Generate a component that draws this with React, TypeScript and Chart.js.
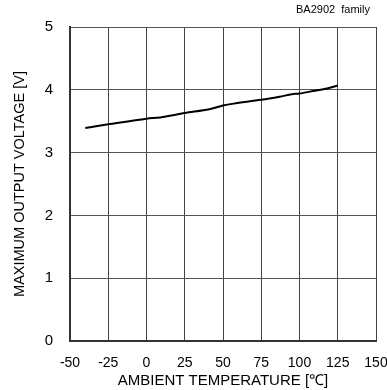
import React, { useEffect, useRef } from "react";
import { Chart, registerables } from "chart.js";

Chart.register(...registerables);

const temperatures = [-40, -33, -25, 0, 9, 25, 41, 50, 57, 75, 87, 95, 100, 109, 118, 125];
const voltages = [3.39, 3.42, 3.45, 3.54, 3.56, 3.63, 3.69, 3.75, 3.78, 3.84, 3.89, 3.93, 3.94, 3.98, 4.02, 4.07];
const xTicks = [-50, -25, 0, 25, 50, 75, 100, 125, 150];
const yTicks = [0, 1, 2, 3, 4, 5];
const xTitle = "AMBIENT TEMPERATURE [\u2103]";
const yTitle = "MAXIMUM OUTPUT VOLTAGE [V]";
const note = "BA2902  family";

const FONT = "'Liberation Sans', Arial, sans-serif";

const notePlugin = {
  id: "notePlugin",
  afterDraw(chart: any) {
    const ctx = chart.ctx;
    ctx.save();
    ctx.font = `11px ${FONT}`;
    ctx.fillStyle = "#000";
    ctx.textAlign = "right";
    ctx.textBaseline = "middle";
    ctx.fillText(note, chart.chartArea.right - 6, 10);
    ctx.restore();
  },
};

export default function App() {
  const ref = useRef<HTMLCanvasElement | null>(null);
  useEffect(() => {
    if (!ref.current) return;
    const chart = new Chart(ref.current, {
      type: "line",
      data: {
        datasets: [
          {
            data: temperatures.map((t, i) => ({ x: t, y: voltages[i] })),
            borderColor: "#000",
            borderWidth: 2,
            pointRadius: 0,
            tension: 0.3,
            fill: false,
          },
        ],
      },
      options: {
        animation: false,
        responsive: false,
        maintainAspectRatio: false,
        layout: { padding: { top: 27, right: 0, left: 0, bottom: 0 } },
        plugins: { legend: { display: false }, tooltip: { enabled: false } },
        scales: {
          x: {
            type: "linear",
            min: -50,
            max: 150,
            afterBuildTicks(scale: any) {
              scale.ticks = xTicks.map((v) => ({ value: v }));
            },
            afterFit(scale: any) {
              scale.height = 49;
              scale.paddingRight = 11;
            },
            grid: { color: "#444", lineWidth: 1, drawTicks: false },
            border: { color: "#333", width: 2 },
            ticks: {
              color: "#000",
              font: { family: FONT, size: 14 },
              padding: 14,
              maxRotation: 0,
              autoSkip: false,
            },
            title: {
              display: true,
              text: xTitle,
              color: "#000",
              font: { family: FONT, size: 15 },
              padding: { top: 0, bottom: 0 },
            },
          },
          y: {
            type: "linear",
            min: 0,
            max: 5,
            afterBuildTicks(scale: any) {
              scale.ticks = yTicks.map((v) => ({ value: v }));
            },
            afterFit(scale: any) {
              scale.width = 70;
            },
            grid: { color: "#555", lineWidth: 1, drawTicks: false },
            border: { color: "#333", width: 2 },
            ticks: {
              color: "#000",
              font: { family: FONT, size: 15 },
              padding: 17,
              autoSkip: false,
            },
            title: {
              display: true,
              text: yTitle,
              color: "#000",
              font: { family: FONT, size: 14.5 },
              padding: { top: 11, bottom: 0 },
            },
          },
        },
      },
      plugins: [notePlugin],
    });
    return () => chart.destroy();
  }, []);
  return (
    <div style={{ position: "fixed", left: 0, top: 0, width: 387, height: 390, background: "#fff" }}>
      <canvas ref={ref} width={387} height={390} style={{ display: "block" }} />
    </div>
  );
}
